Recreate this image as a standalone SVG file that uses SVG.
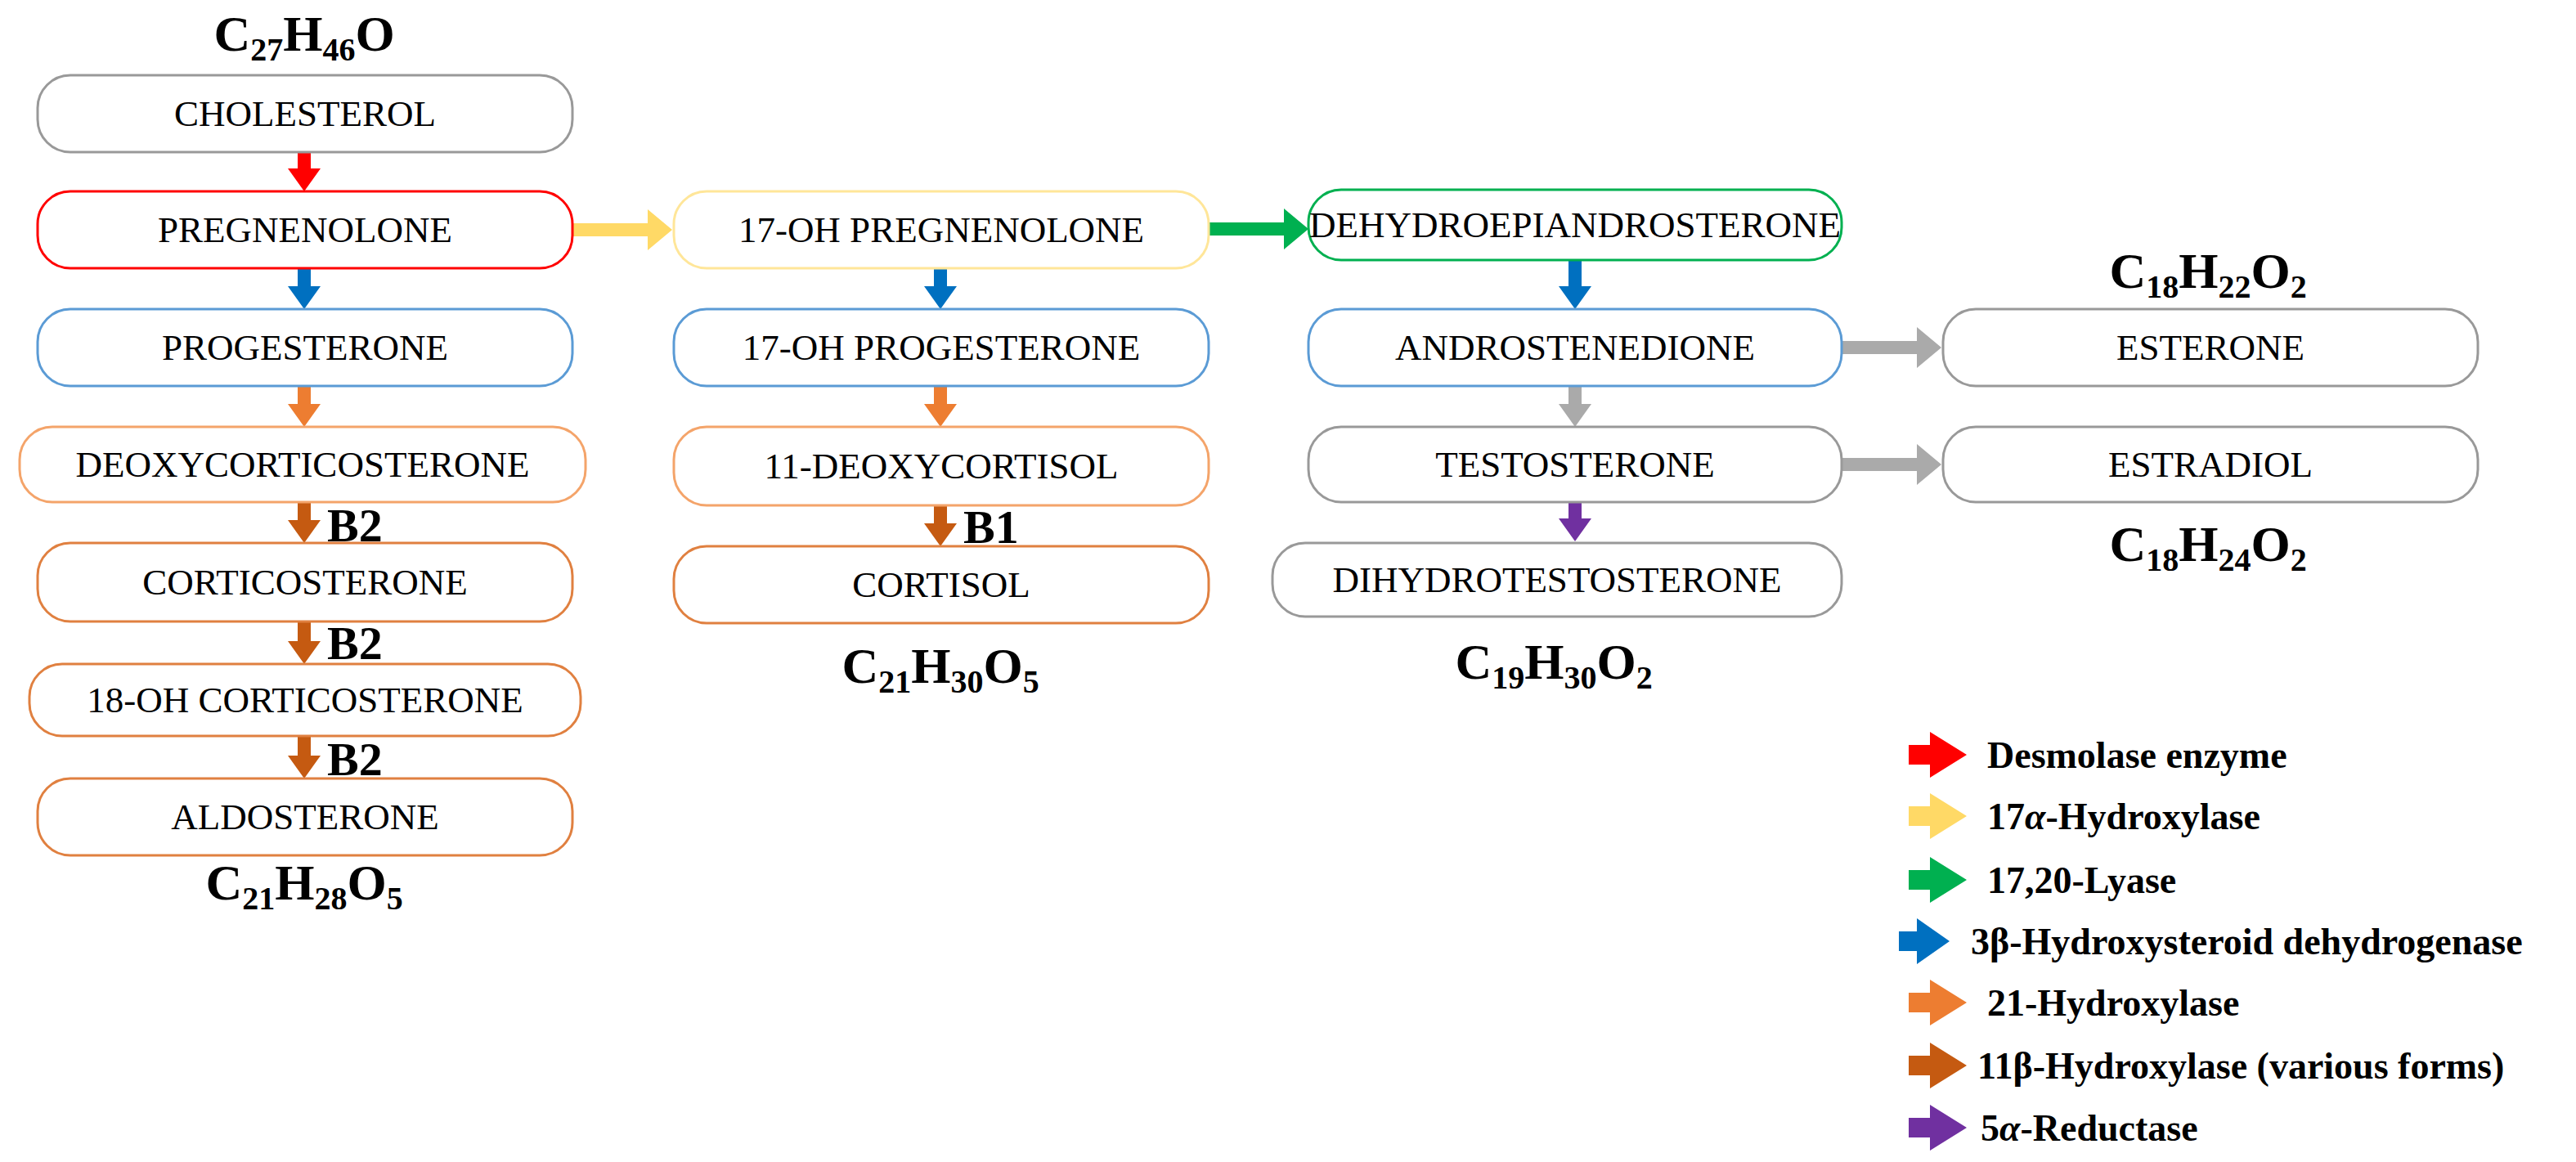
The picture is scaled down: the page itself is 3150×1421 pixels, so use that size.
<svg xmlns="http://www.w3.org/2000/svg" width="3150" height="1421" viewBox="0 0 3150 1421">
<style>
.n{fill:#fff;stroke-width:3}
.t{font-family:"Liberation Serif",serif;font-size:45px;text-anchor:middle;dominant-baseline:central;fill:#000}
.f{font-family:"Liberation Serif",serif;font-size:62px;font-weight:bold;text-anchor:middle;fill:#000}
.s{font-size:40px}
.b{font-family:"Liberation Serif",serif;font-size:58px;font-weight:bold;fill:#000}
.l{font-family:"Liberation Serif",serif;font-size:46px;font-weight:bold;fill:#000;dominant-baseline:central}
</style>
<rect width="3150" height="1421" fill="#fff"/>
<g id="formulas">
<text class="f" x="372" y="62">C<tspan class="s" dy="12">27</tspan><tspan dy="-12">H</tspan><tspan class="s" dy="12">46</tspan><tspan dy="-12">O</tspan></text>
<text class="f" x="372" y="1100">C<tspan class="s" dy="12">21</tspan><tspan dy="-12">H</tspan><tspan class="s" dy="12">28</tspan><tspan dy="-12">O</tspan><tspan class="s" dy="12">5</tspan></text>
<text class="f" x="1150" y="835">C<tspan class="s" dy="12">21</tspan><tspan dy="-12">H</tspan><tspan class="s" dy="12">30</tspan><tspan dy="-12">O</tspan><tspan class="s" dy="12">5</tspan></text>
<text class="f" x="1900" y="830">C<tspan class="s" dy="12">19</tspan><tspan dy="-12">H</tspan><tspan class="s" dy="12">30</tspan><tspan dy="-12">O</tspan><tspan class="s" dy="12">2</tspan></text>
<text class="f" x="2700" y="352">C<tspan class="s" dy="12">18</tspan><tspan dy="-12">H</tspan><tspan class="s" dy="12">22</tspan><tspan dy="-12">O</tspan><tspan class="s" dy="12">2</tspan></text>
<text class="f" x="2700" y="686">C<tspan class="s" dy="12">18</tspan><tspan dy="-12">H</tspan><tspan class="s" dy="12">24</tspan><tspan dy="-12">O</tspan><tspan class="s" dy="12">2</tspan></text>
</g>
<g id="connectors">
<path fill="#ff0000" d="M364,186H380V206H392L372,234L352,206H364Z"/>
<path fill="#0070c0" d="M364,328H380V350H392L372,378L352,350H364Z"/>
<path fill="#ed7d31" d="M364,472H380V494H392L372,522L352,494H364Z"/>
<path fill="#c55a11" d="M364,614H380V636H392L372,664L352,636H364Z"/>
<path fill="#c55a11" d="M364,760H380V784H392L372,812L352,784H364Z"/>
<path fill="#c55a11" d="M364,900H380V924H392L372,952L352,924H364Z"/>
<path fill="#0070c0" d="M1142,328H1158V350H1170L1150,378L1130,350H1142Z"/>
<path fill="#ed7d31" d="M1142,472H1158V494H1170L1150,522L1130,494H1142Z"/>
<path fill="#c55a11" d="M1142,618H1158V640H1170L1150,668L1130,640H1142Z"/>
<path fill="#0070c0" d="M1918,318H1934V350H1946L1926,378L1906,350H1918Z"/>
<path fill="#aaaaaa" d="M1918,472H1934V494H1946L1926,522L1906,494H1918Z"/>
<path fill="#7030a0" d="M1918,606H1934V634H1946L1926,662L1906,634H1918Z"/>
<path fill="#ffd966" d="M700,273H792V256L822,281L792,306V289H700Z"/>
<path fill="#00b050" d="M1478,272H1570V255L1600,280L1570,305V288H1478Z"/>
<path fill="#aaaaaa" d="M2252,417H2344V400L2374,425L2344,450V433H2252Z"/>
<path fill="#aaaaaa" d="M2252,560H2344V543L2374,568L2344,593V576H2252Z"/>
<text class="b" x="400" y="662">B2</text>
<text class="b" x="400" y="806">B2</text>
<text class="b" x="400" y="948">B2</text>
<text class="b" x="1178" y="664">B1</text>
</g>
<g id="cholesterol"><rect class="n" stroke="#999" x="46" y="92" width="654" height="94" rx="40"/><text class="t" x="373" y="139">CHOLESTEROL</text></g>
<g id="pregnenolone"><rect class="n" stroke="#ff0000" x="46" y="234" width="654" height="94" rx="40"/><text class="t" x="373" y="281">PREGNENOLONE</text></g>
<g id="progesterone"><rect class="n" stroke="#5b9bd5" x="46" y="378" width="654" height="94" rx="40"/><text class="t" x="373" y="425">PROGESTERONE</text></g>
<g id="deoxycorticosterone"><rect class="n" stroke="#f4a46a" x="24" y="522" width="692" height="92" rx="40"/><text class="t" x="370" y="568">DEOXYCORTICOSTERONE</text></g>
<g id="corticosterone"><rect class="n" stroke="#e08040" x="46" y="664" width="654" height="96" rx="40"/><text class="t" x="373" y="712">CORTICOSTERONE</text></g>
<g id="oh18corticosterone"><rect class="n" stroke="#e08040" x="36" y="812" width="674" height="88" rx="40"/><text class="t" x="373" y="856">18-OH CORTICOSTERONE</text></g>
<g id="aldosterone"><rect class="n" stroke="#e08040" x="46" y="952" width="654" height="94" rx="40"/><text class="t" x="373" y="999">ALDOSTERONE</text></g>
<g id="oh17pregnenolone"><rect class="n" stroke="#ffe699" x="824" y="234" width="654" height="94" rx="40"/><text class="t" x="1151" y="281">17-OH PREGNENOLONE</text></g>
<g id="oh17progesterone"><rect class="n" stroke="#5b9bd5" x="824" y="378" width="654" height="94" rx="40"/><text class="t" x="1151" y="425">17-OH PROGESTERONE</text></g>
<g id="deoxycortisol"><rect class="n" stroke="#f4a46a" x="824" y="522" width="654" height="96" rx="40"/><text class="t" x="1151" y="570">11-DEOXYCORTISOL</text></g>
<g id="cortisol"><rect class="n" stroke="#e08040" x="824" y="668" width="654" height="94" rx="40"/><text class="t" x="1151" y="715">CORTISOL</text></g>
<g id="dhea"><rect class="n" stroke="#00b050" x="1600" y="232" width="652" height="86" rx="40"/><text class="t" x="1926" y="275" font-size="40">DEHYDROEPIANDROSTERONE</text></g>
<g id="androstenedione"><rect class="n" stroke="#5b9bd5" x="1600" y="378" width="652" height="94" rx="40"/><text class="t" x="1926" y="425">ANDROSTENEDIONE</text></g>
<g id="testosterone"><rect class="n" stroke="#999" x="1600" y="522" width="652" height="92" rx="40"/><text class="t" x="1926" y="568">TESTOSTERONE</text></g>
<g id="dht"><rect class="n" stroke="#999" x="1556" y="664" width="696" height="90" rx="40"/><text class="t" x="1904" y="709">DIHYDROTESTOSTERONE</text></g>
<g id="esterone"><rect class="n" stroke="#999" x="2376" y="378" width="654" height="94" rx="40"/><text class="t" x="2703" y="425">ESTERONE</text></g>
<g id="estradiol"><rect class="n" stroke="#999" x="2376" y="522" width="654" height="92" rx="40"/><text class="t" x="2703" y="568">ESTRADIOL</text></g>
<g id="legend">
<path fill="#ff0000" d="M2334,911H2360V895L2405,923L2360,951V935H2334Z"/>
<path fill="#ffd966" d="M2334,986H2360V970L2405,998L2360,1026V1010H2334Z"/>
<path fill="#00b050" d="M2334,1064H2360V1048L2405,1076L2360,1104V1088H2334Z"/>
<path fill="#0070c0" d="M2322,1139H2344V1123L2384,1151L2344,1179V1163H2322Z"/>
<path fill="#ed7d31" d="M2334,1214H2360V1198L2405,1226L2360,1254V1238H2334Z"/>
<path fill="#c55a11" d="M2334,1291H2360V1275L2405,1303L2360,1331V1315H2334Z"/>
<path fill="#7030a0" d="M2334,1367H2360V1351L2405,1379L2360,1407V1391H2334Z"/>
<text class="l" x="2430" y="923">Desmolase enzyme</text>
<text class="l" x="2430" y="998">17<tspan font-style="italic">α</tspan>-Hydroxylase</text>
<text class="l" x="2430" y="1076">17,20-Lyase</text>
<text class="l" x="2410" y="1151">3β-Hydroxysteroid dehydrogenase</text>
<text class="l" x="2430" y="1226">21-Hydroxylase</text>
<text class="l" x="2418" y="1303">11β-Hydroxylase (various forms)</text>
<text class="l" x="2422" y="1379">5<tspan font-style="italic">α</tspan>-Reductase</text>
</g>
</svg>
